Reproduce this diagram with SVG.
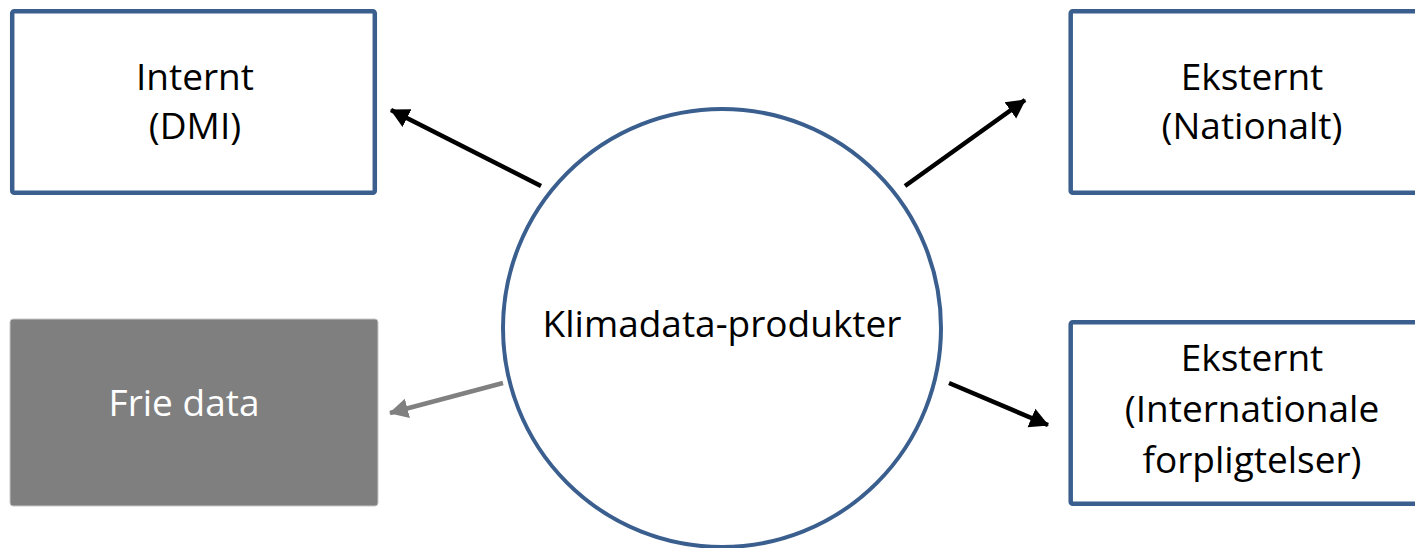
<svg xmlns="http://www.w3.org/2000/svg" width="1415" height="548" viewBox="0 0 1415 548">
<style>
.box{fill:#fff;stroke:#3A5F8E;stroke-width:4.5}
.t{font-family:"Open Sans","Liberation Sans",sans-serif;font-size:37px;fill:#000;text-anchor:middle}
.w{fill:#fff}
.c{stroke-width:4.6;fill:none}
</style>
<defs>
<marker id="ab" markerUnits="userSpaceOnUse" markerWidth="22" markerHeight="22" refX="18" refY="10" orient="auto" viewBox="0 0 22 20">
<path d="M0,0 L19,10 L0,20 Z" fill="#000"/>
</marker>
<marker id="ag" markerUnits="userSpaceOnUse" markerWidth="22" markerHeight="22" refX="18" refY="10" orient="auto" viewBox="0 0 22 20">
<path d="M0,0 L19,10 L0,20 Z" fill="#808080"/>
</marker>
</defs>
<rect width="1415" height="548" fill="#fff"/>
<g id="connectors">
<line class="c" x1="541" y1="186" x2="391" y2="110" stroke="#000" marker-end="url(#ab)"/>
<line class="c" x1="905" y1="186" x2="1025" y2="100" stroke="#000" marker-end="url(#ab)"/>
<line class="c" x1="949" y1="383" x2="1048" y2="425" stroke="#000" marker-end="url(#ab)"/>
<line class="c" x1="503" y1="383" x2="390" y2="413" stroke="#808080" marker-end="url(#ag)"/>
</g>
<g id="internt">
<rect class="box" x="12.2" y="11.2" width="362.6" height="181.6" rx="2"/>
<text class="t" x="195" y="90">Internt</text>
<text class="t" x="195" y="139">(DMI)</text>
</g>
<g id="nationalt">
<rect class="box" x="1070.7" y="11.2" width="370" height="181.6" rx="2"/>
<text class="t" x="1252" y="90">Eksternt</text>
<text class="t" x="1252" y="139">(Nationalt)</text>
</g>
<g id="frie">
<rect x="10" y="319" width="368" height="187" rx="3" fill="#7F7F7F" stroke="#C8C8C8" stroke-width="1"/>
<text class="t w" x="184" y="416">Frie data</text>
</g>
<g id="international">
<rect class="box" x="1070.7" y="322.2" width="370" height="181.6" rx="2"/>
<text class="t" x="1252" y="371">Eksternt</text>
<text class="t" x="1252" y="422">(Internationale</text>
<text class="t" x="1252" y="473">forpligtelser)</text>
</g>
<g id="klimadata">
<circle cx="722" cy="328" r="219" fill="#fff" stroke="#3A5F8E" stroke-width="4"/>
<text class="t" x="722" y="337">Klimadata-produkter</text>
</g>
</svg>
